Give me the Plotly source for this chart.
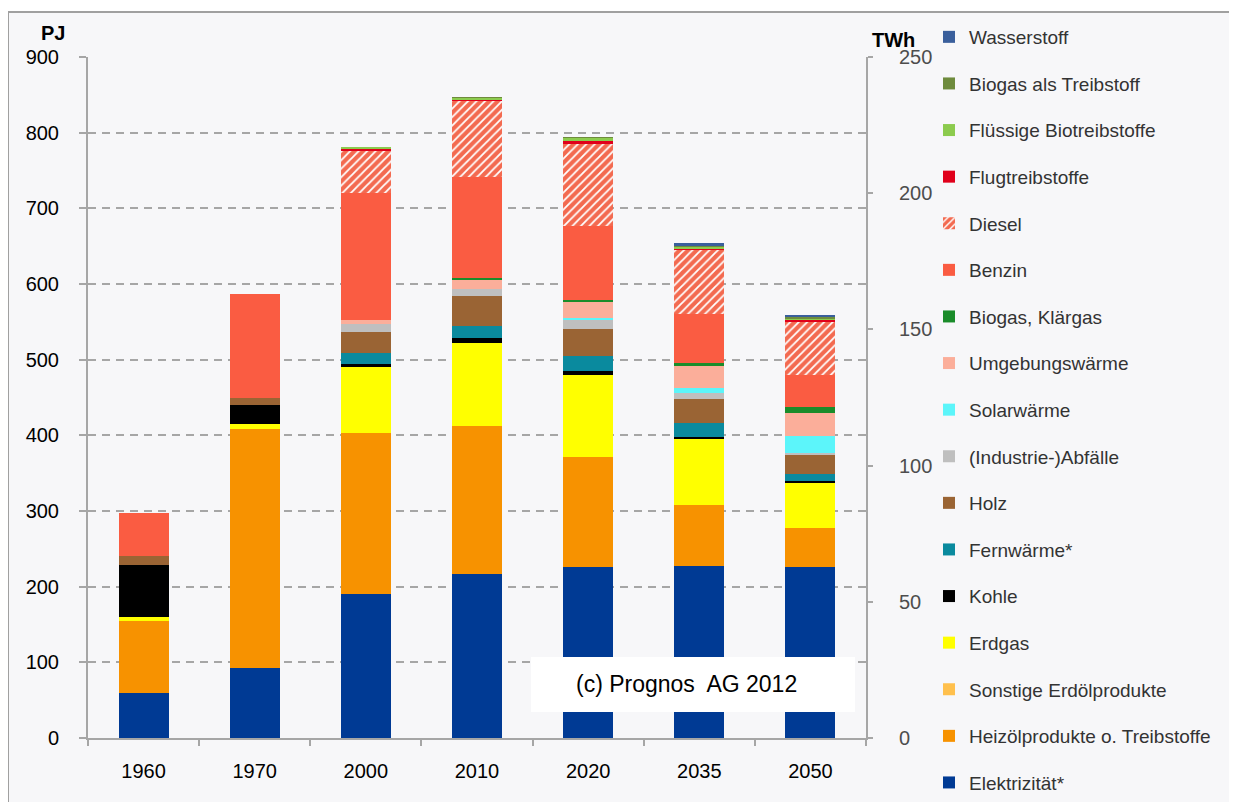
import plotly.graph_objects as go

years = ["1960", "1970", "2000", "2010", "2020", "2035", "2050"]

elektrizitaet = [60, 92, 190, 217, 226, 227, 226]
heizoel = [95, 316, 213, 195, 145, 81, 51]
sonstige = [0, 0, 0, 0, 0, 0, 0]
erdgas = [5, 7, 87, 110, 109, 87, 60]
kohle = [68, 25, 4, 7, 5, 3, 2]
fernwaerme = [0, 0, 15, 16, 20, 18, 10]
holz = [13, 9, 27, 39, 36, 32, 25]
abfaelle = [0, 0, 11, 10, 11, 8, 3]
solarwaerme = [0, 0, 0, 0, 3, 7, 22]
umgebungswaerme = [0, 0, 5, 12, 21, 29, 31]
biogas_klaergas = [0, 0, 0, 2, 3, 4, 8]
benzin = [57, 138, 168, 134, 98, 65, 42]
diesel = [0, 0, 57, 100, 108, 84, 71]
flugtreibstoffe = [0, 0, 1, 1, 4, 2, 2]
fluessige_bio = [0, 0, 3, 3, 4, 2, 2]
biogas_treibstoff = [0, 0, 0, 1, 1, 1, 1]
wasserstoff = [0, 0, 0, 0, 0, 4, 3]

series = [
    ("Elektrizität*", elektrizitaet, "#003A94"),
    ("Heizölprodukte o. Treibstoffe", heizoel, "#F79200"),
    ("Sonstige Erdölprodukte", sonstige, "#FFC04D"),
    ("Erdgas", erdgas, "#FFFF00"),
    ("Kohle", kohle, "#000000"),
    ("Fernwärme*", fernwaerme, "#0A8A9E"),
    ("Holz", holz, "#9A6434"),
    ("(Industrie-)Abfälle", abfaelle, "#BFBFBF"),
    ("Solarwärme", solarwaerme, "#5CF5FA"),
    ("Umgebungswärme", umgebungswaerme, "#FBAE9A"),
    ("Biogas, Klärgas", biogas_klaergas, "#1A8C2A"),
    ("Benzin", benzin, "#FA5C42"),
    ("Diesel", diesel, "#F36A50"),
    ("Flugtreibstoffe", flugtreibstoffe, "#E0001B"),
    ("Flüssige Biotreibstoffe", fluessige_bio, "#8CCB4E"),
    ("Biogas als Treibstoff", biogas_treibstoff, "#6E8B3D"),
    ("Wasserstoff", wasserstoff, "#3A5F9C"),
]

FONT = "Liberation Sans, Arial, sans-serif"

fig = go.Figure()
n = len(series)
for i, (name, vals, col) in enumerate(series):
    marker = dict(color=col, line=dict(width=0))
    if name == "Diesel":
        marker["pattern"] = dict(shape="/", fgcolor="#FFFFFF", bgcolor=col,
                                 size=6, solidity=0.3, fillmode="replace")
    fig.add_trace(go.Bar(x=years, y=vals, name=name, marker=marker,
                         legendgroup=name, legendrank=n - i))

# invisible trace for the TWh axis
fig.add_trace(go.Scatter(x=years, y=[None] * len(years), yaxis="y2",
                         showlegend=False, hoverinfo="skip"))

# the page is drawn with an 8px body offset
OFF = 8
# plot area in reference pixels: x 88..866, y 57..738
L, R, T, B = 88 - OFF, 866 - OFF, 57 - OFF, 738 - OFF
W, H = 1237, 802
pw, ph = R - L, B - T


def px(x):
    return (x - OFF - L) / pw


def py(y):
    return (B - (y - OFF)) / ph


fig.update_layout(
    width=W, height=H,
    margin=dict(l=L, r=W - R, t=T, b=H - B, pad=0, autoexpand=False),
    barmode="stack",
    bargap=0.55,
    paper_bgcolor="#FFFFFF",
    plot_bgcolor="rgba(0,0,0,0)",
    font=dict(family=FONT, size=19, color="#000000"),
    xaxis=dict(type="category", showgrid=False, showline=True,
               linecolor="#A6A6A6", linewidth=2, ticks="outside",
               tickson="boundaries", ticklen=6, tickcolor="#A6A6A6",
               tickwidth=1.5, ticklabelstandoff=14,
               tickfont=dict(size=20, color="#000000")),
    yaxis=dict(range=[0, 900], dtick=100, showgrid=True,
               gridcolor="#A6A6A6", gridwidth=1.5, griddash="8px,6px",
               showline=True, linecolor="#A6A6A6", linewidth=2,
               ticks="outside", ticklen=7, tickcolor="#A6A6A6",
               tickwidth=1.5, ticklabelstandoff=16, zeroline=False,
               tickfont=dict(size=20, color="#000000")),
    yaxis2=dict(range=[0, 250], dtick=50, overlaying="y", side="right",
                showgrid=False, showline=True, linecolor="#A6A6A6",
                linewidth=2, ticks="outside", ticklen=5,
                tickcolor="#A6A6A6", tickwidth=1.5, ticklabelstandoff=22,
                zeroline=False, tickfont=dict(size=20, color="#4D4D4D")),
    legend=dict(x=px(929), y=py(18), xanchor="left", yanchor="top",
                traceorder="grouped", tracegroupgap=18.9, maxheight=800,
                font=dict(family=FONT, size=19, color="#333333"),
                bgcolor="rgba(0,0,0,0)"),
    showlegend=True,
)

# outer frame and background
fig.add_shape(type="rect", xref="paper", yref="paper",
              x0=px(8), x1=px(1260), y0=py(830), y1=py(12),
              fillcolor="#F7F7F9", line=dict(color="#A0A0A0", width=2),
              layer="below")

# copyright box
fig.add_shape(type="rect", xref="paper", yref="paper",
              x0=px(531), x1=px(855), y0=py(712), y1=py(657),
              fillcolor="#FFFFFF", line=dict(width=0), layer="above")
fig.add_annotation(xref="paper", yref="paper", x=px(686), y=py(684),
                   xanchor="center", yanchor="middle",
                   text="(c) Prognos  AG 2012", showarrow=False,
                   font=dict(family=FONT, size=23, color="#000000"))

fig.add_annotation(xref="paper", yref="paper", x=px(53), y=py(33),
                   xanchor="center", yanchor="middle",
                   text="<b>PJ</b>", showarrow=False,
                   font=dict(family=FONT, size=20, color="#000000"))
fig.add_annotation(xref="paper", yref="paper", x=px(893), y=py(40),
                   xanchor="center", yanchor="middle",
                   text="<b>TWh</b>", showarrow=False,
                   font=dict(family=FONT, size=20, color="#000000"))

fig.write_html("out.html")
